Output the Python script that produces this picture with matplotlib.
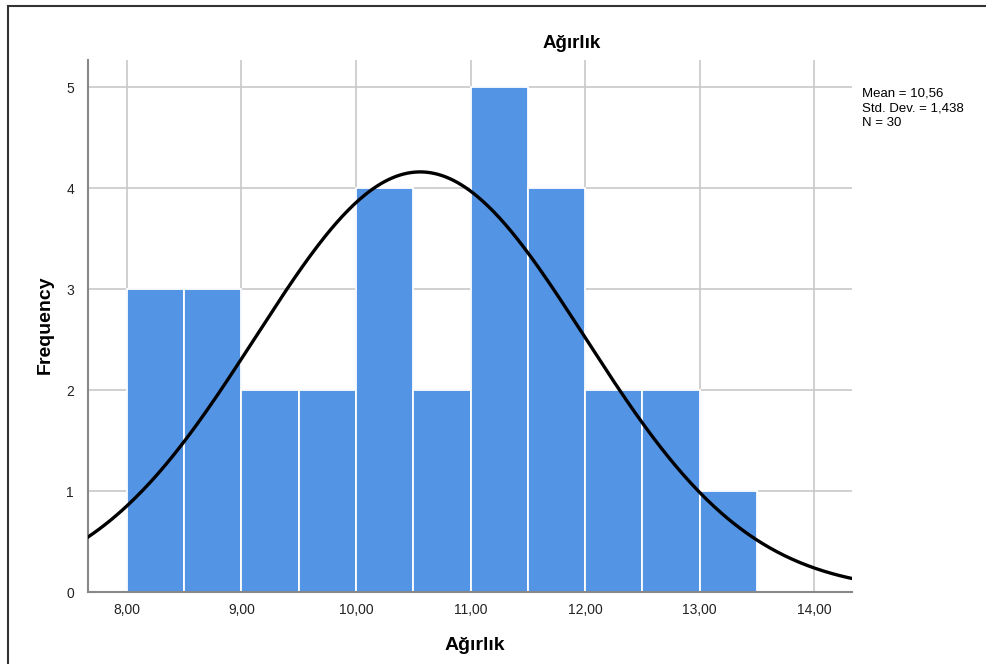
import numpy as np
import matplotlib
matplotlib.use("Agg")
import matplotlib.pyplot as plt
from matplotlib.lines import Line2D
from matplotlib.ticker import FuncFormatter

plt.rcParams['font.family'] = ['Liberation Sans', 'DejaVu Sans']

# histogram data (Ağırlık), bins of width 0.5 starting at 8.0
bin_edges = [8.0, 8.5, 9.0, 9.5, 10.0, 10.5, 11.0, 11.5, 12.0, 12.5, 13.0, 13.5]
counts = [3, 3, 2, 2, 4, 2, 5, 4, 2, 2, 1]
mean = 10.56
sd = 1.438
n = 30
x_ticks = [8, 9, 10, 11, 12, 13, 14]
y_ticks = [0, 1, 2, 3, 4, 5]

W, H = 987, 664
fig = plt.figure(figsize=(W / 100, H / 100), dpi=100)
ax = fig.add_axes([88 / W, 1 - 592 / H, (852 - 88) / W, (592 - 60) / H])

lefts = bin_edges[:-1]
widths = np.diff(bin_edges)
ax.bar(lefts, counts, width=widths, align='edge', color='#5394E4',
       edgecolor='white', linewidth=1.3, zorder=2)

xs = np.linspace(7.66, 14.33, 400)
bw = bin_edges[1] - bin_edges[0]
ys = n * bw / (sd * np.sqrt(2 * np.pi)) * np.exp(-0.5 * ((xs - mean) / sd) ** 2)
ax.plot(xs, ys, color='black', linewidth=2.4, zorder=3)

ax.set_xlim(7.66, 14.33)
ax.set_ylim(0, 5.27)
ax.set_xticks(x_ticks)
ax.set_yticks(y_ticks)
ax.xaxis.set_major_formatter(FuncFormatter(lambda v, p: f"{v:.2f}".replace('.', ',')))
ax.grid(True, color='#c8c8c8', linewidth=1.2, zorder=0)
ax.set_axisbelow(True)
for s in ['top', 'right']:
    ax.spines[s].set_visible(False)
for s in ['left', 'bottom']:
    ax.spines[s].set_color('#888888')
    ax.spines[s].set_linewidth(1.5)
ax.tick_params(length=0, labelsize=10, colors='#222222', pad=8)
ax.tick_params(axis='y', pad=10)

fig.text(572 / W, 1 - 43 / H, 'Ağırlık', ha='center', va='center',
         fontsize=13.5, fontweight='bold')
fig.text(475 / W, 1 - 646 / H, 'Ağırlık', ha='center', va='center',
         fontsize=14, fontweight='bold')
fig.text(45 / W, 1 - 325 / H, 'Frequency', ha='center', va='center',
         fontsize=14, fontweight='bold', rotation=90)
stats = "Mean = 10,56\nStd. Dev. = 1,438\nN = 30"
fig.text(862 / W, 1 - 88 / H, stats, ha='left', va='top', fontsize=9.5, linespacing=1.25)

# outer frame (top and left only)
fig.add_artist(Line2D([8 / W, 1], [1 - 6 / H, 1 - 6 / H], color='#333333', linewidth=1.5))
fig.add_artist(Line2D([8 / W, 8 / W], [0, 1 - 6 / H], color='#333333', linewidth=1.5))

fig.savefig('out.png', dpi=100)
